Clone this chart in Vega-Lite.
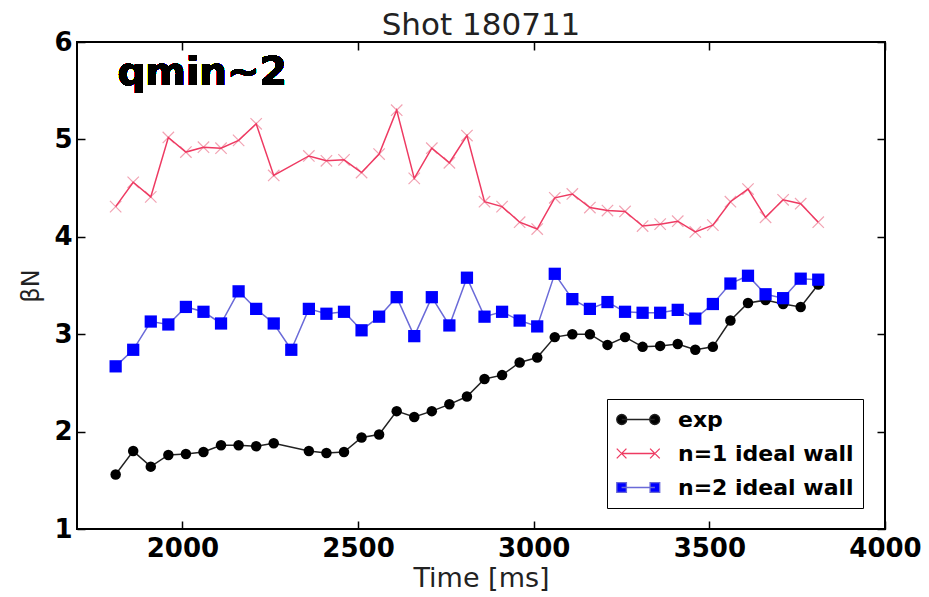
{
  "$schema": "https://vega.github.io/schema/vega-lite/v6.json",
  "width": 808,
  "height": 487,
  "autosize": {"type": "none"},
  "padding": {"left": 77, "top": 42, "right": 44, "bottom": 68},
  "background": "white",
  "title": {"text": "Shot 180711", "font": "DejaVu Sans", "fontSize": 31, "fontWeight": "normal", "color": "#222222", "offset": -13},
  "data": {"values": [
    {"time": 1810, "series": "exp", "beta": 1.56},
    {"time": 1860, "series": "exp", "beta": 1.80},
    {"time": 1910, "series": "exp", "beta": 1.64},
    {"time": 1960, "series": "exp", "beta": 1.76},
    {"time": 2010, "series": "exp", "beta": 1.77},
    {"time": 2060, "series": "exp", "beta": 1.79},
    {"time": 2110, "series": "exp", "beta": 1.86},
    {"time": 2160, "series": "exp", "beta": 1.86},
    {"time": 2210, "series": "exp", "beta": 1.85},
    {"time": 2260, "series": "exp", "beta": 1.88},
    {"time": 2360, "series": "exp", "beta": 1.80},
    {"time": 2410, "series": "exp", "beta": 1.78},
    {"time": 2460, "series": "exp", "beta": 1.79},
    {"time": 2510, "series": "exp", "beta": 1.94},
    {"time": 2560, "series": "exp", "beta": 1.97},
    {"time": 2610, "series": "exp", "beta": 2.21},
    {"time": 2660, "series": "exp", "beta": 2.15},
    {"time": 2710, "series": "exp", "beta": 2.21},
    {"time": 2760, "series": "exp", "beta": 2.28},
    {"time": 2810, "series": "exp", "beta": 2.36},
    {"time": 2860, "series": "exp", "beta": 2.54},
    {"time": 2910, "series": "exp", "beta": 2.58},
    {"time": 2960, "series": "exp", "beta": 2.71},
    {"time": 3010, "series": "exp", "beta": 2.76},
    {"time": 3060, "series": "exp", "beta": 2.97},
    {"time": 3110, "series": "exp", "beta": 3.00},
    {"time": 3160, "series": "exp", "beta": 3.00},
    {"time": 3210, "series": "exp", "beta": 2.89},
    {"time": 3260, "series": "exp", "beta": 2.97},
    {"time": 3310, "series": "exp", "beta": 2.87},
    {"time": 3360, "series": "exp", "beta": 2.88},
    {"time": 3410, "series": "exp", "beta": 2.90},
    {"time": 3460, "series": "exp", "beta": 2.84},
    {"time": 3510, "series": "exp", "beta": 2.87},
    {"time": 3560, "series": "exp", "beta": 3.14},
    {"time": 3610, "series": "exp", "beta": 3.32},
    {"time": 3660, "series": "exp", "beta": 3.35},
    {"time": 3710, "series": "exp", "beta": 3.31},
    {"time": 3760, "series": "exp", "beta": 3.28},
    {"time": 3810, "series": "exp", "beta": 3.51},
    {"time": 1810, "series": "n=1 ideal wall", "beta": 4.31},
    {"time": 1860, "series": "n=1 ideal wall", "beta": 4.56},
    {"time": 1910, "series": "n=1 ideal wall", "beta": 4.41},
    {"time": 1960, "series": "n=1 ideal wall", "beta": 5.02},
    {"time": 2010, "series": "n=1 ideal wall", "beta": 4.87},
    {"time": 2060, "series": "n=1 ideal wall", "beta": 4.92},
    {"time": 2110, "series": "n=1 ideal wall", "beta": 4.91},
    {"time": 2160, "series": "n=1 ideal wall", "beta": 4.99},
    {"time": 2210, "series": "n=1 ideal wall", "beta": 5.16},
    {"time": 2260, "series": "n=1 ideal wall", "beta": 4.63},
    {"time": 2360, "series": "n=1 ideal wall", "beta": 4.83},
    {"time": 2410, "series": "n=1 ideal wall", "beta": 4.78},
    {"time": 2460, "series": "n=1 ideal wall", "beta": 4.79},
    {"time": 2510, "series": "n=1 ideal wall", "beta": 4.66},
    {"time": 2560, "series": "n=1 ideal wall", "beta": 4.85},
    {"time": 2610, "series": "n=1 ideal wall", "beta": 5.30},
    {"time": 2660, "series": "n=1 ideal wall", "beta": 4.60},
    {"time": 2710, "series": "n=1 ideal wall", "beta": 4.91},
    {"time": 2760, "series": "n=1 ideal wall", "beta": 4.76},
    {"time": 2810, "series": "n=1 ideal wall", "beta": 5.04},
    {"time": 2860, "series": "n=1 ideal wall", "beta": 4.36},
    {"time": 2910, "series": "n=1 ideal wall", "beta": 4.31},
    {"time": 2960, "series": "n=1 ideal wall", "beta": 4.15},
    {"time": 3010, "series": "n=1 ideal wall", "beta": 4.08},
    {"time": 3060, "series": "n=1 ideal wall", "beta": 4.40},
    {"time": 3110, "series": "n=1 ideal wall", "beta": 4.44},
    {"time": 3160, "series": "n=1 ideal wall", "beta": 4.30},
    {"time": 3210, "series": "n=1 ideal wall", "beta": 4.27},
    {"time": 3260, "series": "n=1 ideal wall", "beta": 4.26},
    {"time": 3310, "series": "n=1 ideal wall", "beta": 4.11},
    {"time": 3360, "series": "n=1 ideal wall", "beta": 4.13},
    {"time": 3410, "series": "n=1 ideal wall", "beta": 4.16},
    {"time": 3460, "series": "n=1 ideal wall", "beta": 4.05},
    {"time": 3510, "series": "n=1 ideal wall", "beta": 4.12},
    {"time": 3560, "series": "n=1 ideal wall", "beta": 4.36},
    {"time": 3610, "series": "n=1 ideal wall", "beta": 4.49},
    {"time": 3660, "series": "n=1 ideal wall", "beta": 4.20},
    {"time": 3710, "series": "n=1 ideal wall", "beta": 4.38},
    {"time": 3760, "series": "n=1 ideal wall", "beta": 4.34},
    {"time": 3810, "series": "n=1 ideal wall", "beta": 4.15},
    {"time": 1810, "series": "n=2 ideal wall", "beta": 2.67},
    {"time": 1860, "series": "n=2 ideal wall", "beta": 2.84},
    {"time": 1910, "series": "n=2 ideal wall", "beta": 3.13},
    {"time": 1960, "series": "n=2 ideal wall", "beta": 3.10},
    {"time": 2010, "series": "n=2 ideal wall", "beta": 3.28},
    {"time": 2060, "series": "n=2 ideal wall", "beta": 3.23},
    {"time": 2110, "series": "n=2 ideal wall", "beta": 3.11},
    {"time": 2160, "series": "n=2 ideal wall", "beta": 3.44},
    {"time": 2210, "series": "n=2 ideal wall", "beta": 3.26},
    {"time": 2260, "series": "n=2 ideal wall", "beta": 3.11},
    {"time": 2310, "series": "n=2 ideal wall", "beta": 2.84},
    {"time": 2360, "series": "n=2 ideal wall", "beta": 3.26},
    {"time": 2410, "series": "n=2 ideal wall", "beta": 3.21},
    {"time": 2460, "series": "n=2 ideal wall", "beta": 3.23},
    {"time": 2510, "series": "n=2 ideal wall", "beta": 3.04},
    {"time": 2560, "series": "n=2 ideal wall", "beta": 3.18},
    {"time": 2610, "series": "n=2 ideal wall", "beta": 3.38},
    {"time": 2660, "series": "n=2 ideal wall", "beta": 2.98},
    {"time": 2710, "series": "n=2 ideal wall", "beta": 3.38},
    {"time": 2760, "series": "n=2 ideal wall", "beta": 3.09},
    {"time": 2810, "series": "n=2 ideal wall", "beta": 3.58},
    {"time": 2860, "series": "n=2 ideal wall", "beta": 3.18},
    {"time": 2910, "series": "n=2 ideal wall", "beta": 3.23},
    {"time": 2960, "series": "n=2 ideal wall", "beta": 3.14},
    {"time": 3010, "series": "n=2 ideal wall", "beta": 3.08},
    {"time": 3060, "series": "n=2 ideal wall", "beta": 3.62},
    {"time": 3110, "series": "n=2 ideal wall", "beta": 3.36},
    {"time": 3160, "series": "n=2 ideal wall", "beta": 3.26},
    {"time": 3210, "series": "n=2 ideal wall", "beta": 3.33},
    {"time": 3260, "series": "n=2 ideal wall", "beta": 3.23},
    {"time": 3310, "series": "n=2 ideal wall", "beta": 3.22},
    {"time": 3360, "series": "n=2 ideal wall", "beta": 3.22},
    {"time": 3410, "series": "n=2 ideal wall", "beta": 3.25},
    {"time": 3460, "series": "n=2 ideal wall", "beta": 3.16},
    {"time": 3510, "series": "n=2 ideal wall", "beta": 3.31},
    {"time": 3560, "series": "n=2 ideal wall", "beta": 3.52},
    {"time": 3610, "series": "n=2 ideal wall", "beta": 3.60},
    {"time": 3660, "series": "n=2 ideal wall", "beta": 3.41},
    {"time": 3710, "series": "n=2 ideal wall", "beta": 3.37},
    {"time": 3760, "series": "n=2 ideal wall", "beta": 3.57},
    {"time": 3810, "series": "n=2 ideal wall", "beta": 3.56}
  ]},
  "layer": [
    {
      "transform": [{"filter": "datum.series === 'n=1 ideal wall'"}],
      "mark": {"type": "point", "shape": "M-1,-1L1,1M-1,1L1,-1", "filled": false, "color": "#f2a3b3", "strokeWidth": 1.2, "size": 130, "opacity": 1},
      "encoding": {
        "x": {"field": "time", "type": "quantitative", "scale": {"domain": [1700, 4000], "nice": false, "zero": false},
              "axis": {"orient": "top", "labels": false, "title": null, "values": [2000, 2500, 3000, 3500, 4000]}},
        "y": {"field": "beta", "type": "quantitative", "scale": {"domain": [1, 6], "nice": false, "zero": false},
              "axis": {"orient": "right", "labels": false, "title": null, "values": [1, 2, 3, 4, 5, 6]}}
      }
    },
    {
      "mark": {"type": "line", "strokeWidth": 1.5},
      "encoding": {
        "x": {"field": "time", "type": "quantitative",
              "axis": {"orient": "bottom", "title": "Time [ms]", "values": [2000, 2500, 3000, 3500, 4000], "format": "d", "labelPadding": 14, "titlePadding": 4, "titleFontSize": 27, "labelFlush": false, "labelOverlap": false}},
        "y": {"field": "beta", "type": "quantitative",
              "axis": {"orient": "left", "title": "βN", "values": [1, 2, 3, 4, 5, 6], "labelPadding": 13, "titlePadding": 10, "titleFontSize": 24, "labelOverlap": false, "format": "d"}},
        "color": {"field": "series", "type": "nominal",
          "scale": {"domain": ["exp", "n=1 ideal wall", "n=2 ideal wall"], "range": ["#222222", "#ee3a62", "#6a6ad8"]},
          "legend": {
            "title": null, "orient": "none", "legendX": 530, "legendY": 357,
            "padding": 9, "strokeColor": "black", "fillColor": "white", "cornerRadius": 0,
            "rowPadding": 11, "symbolSize": 462, "labelOffset": 39,
            "labelFont": "DejaVu Sans", "labelFontSize": 22, "labelFontWeight": "bold", "labelColor": "black", "labelLimit": 400,
            "encode": {"symbols": {"update": {
              "shape": {"signal": "datum.value === 'exp' ? 'M-0.535,0L2.535,0M-1,0A0.465,0.465 0 1,1 -0.07,0A0.465,0.465 0 1,1 -1,0ZM2.07,0A0.465,0.465 0 1,1 3,0A0.465,0.465 0 1,1 2.07,0Z' : datum.value === 'n=1 ideal wall' ? 'M-0.55,0L2.55,0M-1,-0.45L-0.1,0.45M-1,0.45L-0.1,-0.45M2.1,-0.45L3,0.45M2.1,0.45L3,-0.45' : 'M-0.55,0L2.55,0M-1,-0.45H-0.1V0.45H-1ZM2.1,-0.45H3V0.45H2.1Z'"},
              "fill": {"signal": "datum.value === 'exp' ? '#000000' : datum.value === 'n=1 ideal wall' ? 'transparent' : '#0000ff'"},
              "stroke": {"signal": "datum.value === 'exp' ? '#222222' : datum.value === 'n=1 ideal wall' ? '#ee5a78' : '#3434e0'"},
              "strokeWidth": {"value": 1.3},
              "opacity": {"value": 1}
            }}}
          }
        }
      }
    },
    {
      "transform": [{"filter": "datum.series === 'exp'"}],
      "mark": {"type": "point", "shape": "circle", "filled": true, "color": "#000000", "size": 110, "opacity": 1},
      "encoding": {
        "x": {"field": "time", "type": "quantitative", "axis": null},
        "y": {"field": "beta", "type": "quantitative", "axis": null}
      }
    },
    {
      "transform": [{"filter": "datum.series === 'n=2 ideal wall'"}],
      "mark": {"type": "point", "shape": "square", "filled": true, "color": "#0000ff", "size": 150, "opacity": 1},
      "encoding": {
        "x": {"field": "time", "type": "quantitative", "axis": null},
        "y": {"field": "beta", "type": "quantitative", "axis": null}
      }
    },
    {
      "mark": {"type": "text", "text": "qmin~2", "font": "DejaVu Sans", "fontSize": 39, "fontWeight": "bold", "align": "left", "baseline": "alphabetic", "color": "#000000"},
      "encoding": {
        "x": {"datum": 1815, "type": "quantitative", "axis": null},
        "y": {"datum": 5.556, "type": "quantitative", "axis": null}
      }
    }
  ],
  "resolve": {"axis": {"x": "independent", "y": "independent"}},
  "config": {
    "view": {"stroke": "#000000", "strokeWidth": 2},
    "axis": {
      "labelFont": "DejaVu Sans", "labelFontSize": 26, "labelFontWeight": "bold", "labelColor": "#000000",
      "tickColor": "#000000", "tickWidth": 1.5, "tickSize": -8, "domain": false, "grid": false,
      "titleFont": "DejaVu Sans", "titleFontWeight": "normal", "titleColor": "#222222"
    }
  }
}
